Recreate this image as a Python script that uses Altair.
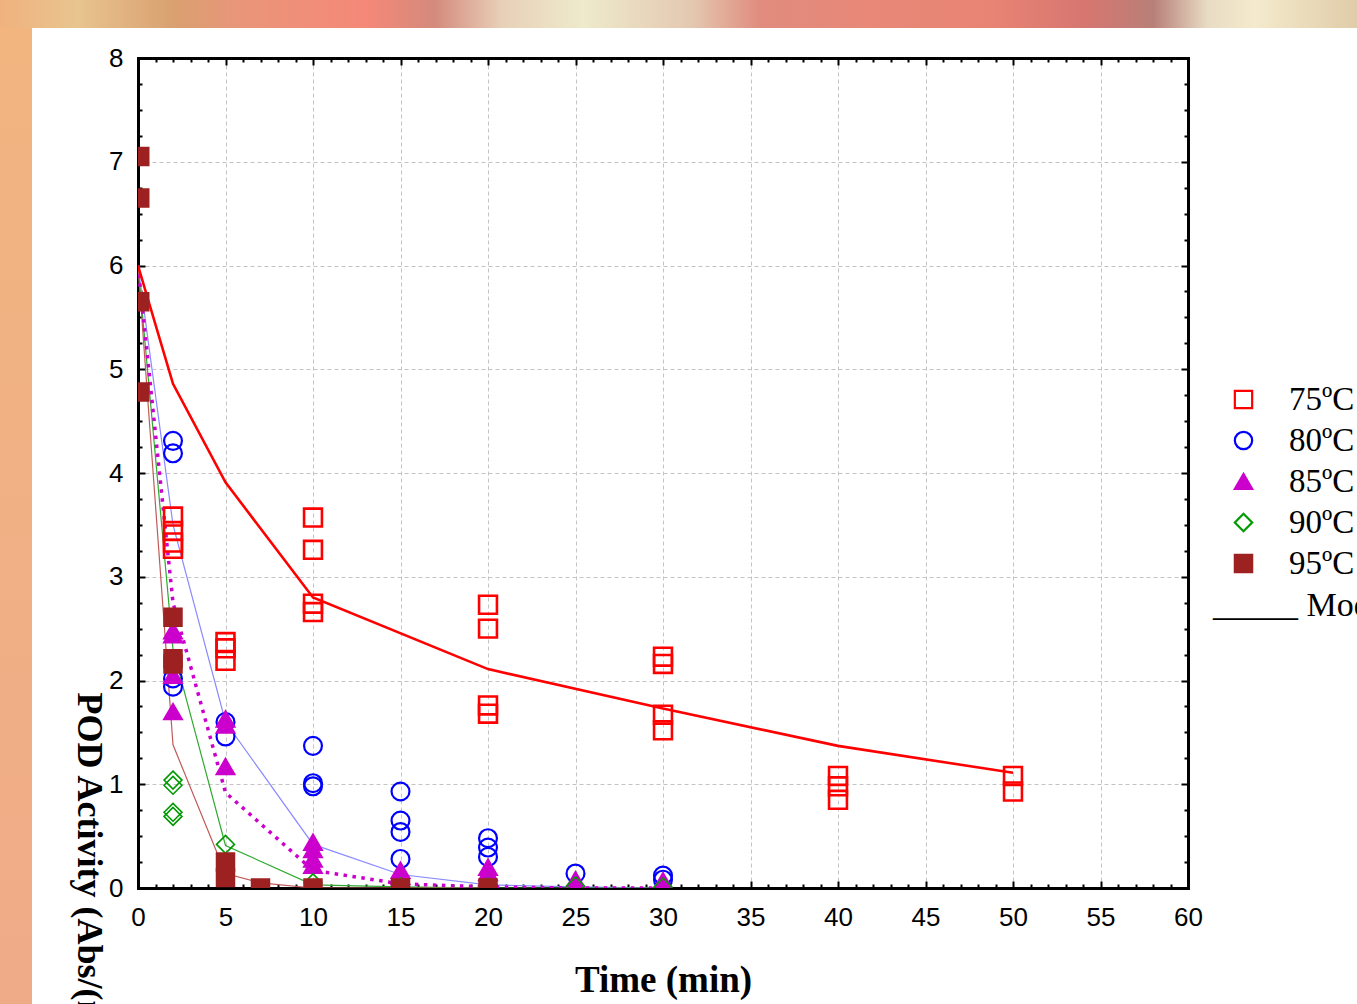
import altair as alt
import pandas as pd

# ---------------- data ----------------
series = ["75ºC", "80ºC", "85ºC", "90ºC", "95ºC"]
marker_shapes = ["square", "circle", "triangle-up", "diamond", "square"]
marker_strokes = ["#ff0000", "#0000ff", "#cc00cc", "#009900", "#9e2121"]
marker_fills = ["transparent", "transparent", "#cc00cc", "transparent", "#9e2121"]
marker_widths = [2.6, 2.2, 2.0, 1.6, 1.6]

t75 = [2, 2, 2, 2, 5, 5, 5, 10, 10, 10, 10, 20, 20, 20, 20, 30, 30, 30, 30, 40, 40, 40, 50, 50]
y75 = [3.58, 3.44, 3.33, 3.27, 2.37, 2.31, 2.19, 3.57, 3.26, 2.74, 2.66, 2.73, 2.50, 1.76, 1.68,
       2.23, 2.16, 1.67, 1.52, 1.08, 0.98, 0.85, 1.08, 0.93]

t80 = [2, 2, 2, 2, 5, 5, 10, 10, 10, 15, 15, 15, 15, 20, 20, 20, 25, 30, 30]
y80 = [4.31, 4.19, 2.02, 1.94, 1.60, 1.46, 1.37, 1.01, 0.98, 0.93, 0.65, 0.54, 0.28,
       0.48, 0.39, 0.30, 0.14, 0.12, 0.08]

t85 = [2, 2, 2, 2, 5, 5, 5, 10, 10, 10, 10, 15, 15, 20, 20, 20, 25, 25, 30, 30]
y85 = [2.48, 2.44, 2.05, 1.70, 1.63, 1.57, 1.17, 0.44, 0.37, 0.28, 0.22, 0.17, 0.11,
       0.20, 0.15, 0.10, 0.08, 0.05, 0.07, 0.04]

t90 = [2, 2, 2, 2, 5, 10, 15, 20, 25, 30]
y90 = [1.04, 0.99, 0.73, 0.69, 0.42, 0.05, 0.01, 0.01, 0.02, 0.01]

t95 = [0.1, 0.1, 0.1, 0.1, 2, 2, 2, 5, 5, 7, 10, 15, 20]
y95 = [7.05, 6.65, 5.65, 4.78, 2.61, 2.21, 2.16, 0.25, 0.10, 0.0, 0.0, 0.0, 0.0]

# model curves
m75_t = [0, 2, 5, 10, 20, 30, 40, 50]
m75_y = [6.0, 4.86, 3.91, 2.80, 2.11, 1.73, 1.37, 1.11]
m80_t = [0, 2, 5, 10, 15, 20, 25, 30]
m80_y = [6.0, 3.5, 1.6, 0.42, 0.13, 0.03, 0.01, 0.0]
m85_t = [0, 2, 5, 10, 15, 20, 25, 30]
m85_y = [6.0, 2.75, 0.92, 0.17, 0.04, 0.01, 0.0, 0.0]
m90_t = [0, 2, 5, 10, 15, 20, 25, 30]
m90_y = [6.0, 2.3, 0.41, 0.03, 0.01, 0.0, 0.0, 0.0]
m95_t = [0, 2, 5, 7, 10, 15, 20]
m95_y = [6.0, 1.38, 0.14, 0.05, 0.0, 0.0, 0.0]

model_label = "_____ Model"
x_title = "Time (min)"
y_title = "POD Activity (Abs/(min·g))"
x_ticks_major = list(range(0, 61, 5))
x_ticks_minor = list(range(0, 61, 1))
y_ticks_major = list(range(0, 9))
y_ticks_minor = [i * 0.25 for i in range(33)]

# ---------------- chart ----------------
W, H = 1050, 830
xs = alt.Scale(domain=[0, 60], nice=False, zero=False)
ys = alt.Scale(domain=[0, 8], nice=False, zero=False)

shape_sc = alt.Scale(domain=series, range=marker_shapes)
stroke_sc = alt.Scale(domain=series, range=marker_strokes)
fill_sc = alt.Scale(domain=series, range=marker_fills)

leg = alt.Legend(title=None, orient="none", legendX=1089, legendY=325,
                 labelFont="Liberation Serif", labelFontSize=33, labelColor="black",
                 labelOffset=29, rowPadding=7, symbolSize=300, symbolStrokeWidth=2.2,
                 padding=0, labelLimit=400)

SANS = "Liberation Sans"
SERIF = "Liberation Serif"

main_x = alt.Axis(orient="bottom", values=x_ticks_major, labelFont=SANS, labelFontSize=26,
                  labelColor="black", labelPadding=16, labelFlush=False, labelOverlap=False,
                  ticks=False, domain=True, domainColor="black", domainWidth=3, domainCap="square",
                  grid=True, gridColor="#c4c4c4", gridDash=[4, 3], gridWidth=1,
                  gridOpacity={"condition": {"test": "datum.value === 0 || datum.value === 60", "value": 0}, "value": 1},
                  title=x_title, titleFont=SERIF, titleFontSize=37, titleFontWeight="bold",
                  titleColor="black", titleX=525, titleY=92, titleAlign="center", titleBaseline="middle")
main_y = alt.Axis(orient="left", values=y_ticks_major, labelFont=SANS, labelFontSize=26,
                  labelColor="black", labelPadding=15, labelFlush=False, labelOverlap=False,
                  ticks=False, domain=True, domainColor="black", domainWidth=3, domainCap="square",
                  grid=True, gridColor="#c4c4c4", gridDash=[4, 3], gridWidth=1,
                  gridOpacity={"condition": {"test": "datum.value === 0 || datum.value === 8", "value": 0}, "value": 1},
                  title=y_title, titleFont=SERIF, titleFontSize=36, titleFontWeight="bold",
                  titleColor="black", titleAngle=90, titleX=-50, titleY=634, titleAlign="left",
                  titleBaseline="middle")

xsize = {"condition": {"test": "datum.value % 5 === 0", "value": 7}, "value": 4}
ysize = {"condition": {"test": "datum.value % 1 === 0", "value": 7}, "value": 4}

def tick_axis(orient, values, size, offset, domain):
    return alt.Axis(orient=orient, values=values, offset=offset, labels=False, grid=False,
                    ticks=True, tickColor="black", tickWidth=2, tickSize=size,
                    domain=domain, domainColor="black", domainWidth=3, domainCap="square",
                    title=None)

# inward ticks: bottom edge (top-orient moved down), left edge (right-orient moved left)
ax_bottom_in = tick_axis("top", x_ticks_minor, xsize, -H, False)
ax_left_in = tick_axis("right", y_ticks_minor, ysize, -W, False)
# top edge (bottom-orient moved up), right edge (left-orient moved right)
ax_top_in = tick_axis("bottom", x_ticks_minor, xsize, -H, True)
ax_right_in = tick_axis("left", y_ticks_minor, ysize, -W, True)

# background decoration of the slide
one = alt.Data(values=[{"k": 1}])
grad_top = alt.LinearGradient(gradient="linear", x1=0, x2=1, y1=0, y2=0, stops=[
    alt.GradientStop(offset=0.0, color="#f0b27e"),
    alt.GradientStop(offset=0.057, color="#e8c48e"),
    alt.GradientStop(offset=0.128, color="#d9a070"),
    alt.GradientStop(offset=0.18, color="#ea957a"),
    alt.GradientStop(offset=0.27, color="#f58878"),
    alt.GradientStop(offset=0.32, color="#d48a7c"),
    alt.GradientStop(offset=0.37, color="#e8d0b8"),
    alt.GradientStop(offset=0.43, color="#eeeacc"),
    alt.GradientStop(offset=0.51, color="#e4c8b0"),
    alt.GradientStop(offset=0.56, color="#e08c7e"),
    alt.GradientStop(offset=0.64, color="#e88878"),
    alt.GradientStop(offset=0.73, color="#e88474"),
    alt.GradientStop(offset=0.80, color="#d67670"),
    alt.GradientStop(offset=0.85, color="#b88078"),
    alt.GradientStop(offset=0.89, color="#e8dcc4"),
    alt.GradientStop(offset=0.925, color="#f4eacc"),
    alt.GradientStop(offset=1.0, color="#e0cca8"),
])
grad_left = alt.LinearGradient(gradient="linear", x1=0, x2=0, y1=0, y2=1, stops=[
    alt.GradientStop(offset=0.0, color="#f2b580"),
    alt.GradientStop(offset=1.0, color="#efab88"),
])
bg_top = alt.Chart(one).mark_rect(fill=grad_top).encode(
    x=alt.value(-138), x2=alt.value(1219), y=alt.value(-58), y2=alt.value(-30))
bg_left = alt.Chart(one).mark_rect(fill=grad_left).encode(
    x=alt.value(-138), x2=alt.value(-106), y=alt.value(-30), y2=alt.value(946))

# model lines
thin_df = pd.DataFrame({
    "t": m80_t + m90_t + m95_t,
    "y": m80_y + m90_y + m95_y,
    "s": ["80ºC"] * len(m80_t) + ["90ºC"] * len(m90_t) + ["95ºC"] * len(m95_t),
})
thin = alt.Chart(thin_df).mark_line(clip=True, strokeWidth=1.2).encode(
    x=alt.X("t:Q", scale=xs, axis=None),
    y=alt.Y("y:Q", scale=ys, axis=None),
    color=alt.Color("s:N", scale=alt.Scale(domain=["80ºC", "90ºC", "95ºC"],
                                           range=["#8a8aff", "#2faa2f", "#c05a5a"]), legend=None),
)
dotted = alt.Chart(pd.DataFrame({"t": m85_t, "y": m85_y})).mark_line(
    clip=True, strokeWidth=3.5, strokeDash=[3.5, 5.5], color="#cc00cc").encode(
    x=alt.X("t:Q", scale=xs, axis=ax_top_in),
    y=alt.Y("y:Q", scale=ys, axis=ax_right_in),
)
red = alt.Chart(pd.DataFrame({"t": m75_t, "y": m75_y})).mark_line(
    clip=True, strokeWidth=2.6, color="#ff0000").encode(
    x=alt.X("t:Q", scale=xs, axis=ax_bottom_in),
    y=alt.Y("y:Q", scale=ys, axis=ax_left_in),
)

obs = [(t75, y75), (t80, y80), (t85, y85), (t90, y90), (t95, y95)]
point_layers = []
for i, (name, (tt, yy)) in enumerate(zip(series, obs)):
    d = pd.DataFrame({"t": tt, "y": yy, "s": name})
    xa = main_x if i == 0 else None
    ya = main_y if i == 0 else None
    layer = alt.Chart(d).mark_point(clip=True, size=320, opacity=1,
                                    strokeWidth=marker_widths[i]).encode(
        x=alt.X("t:Q", scale=xs, axis=xa),
        y=alt.Y("y:Q", scale=ys, axis=ya),
        shape=alt.Shape("s:N", scale=shape_sc, legend=leg),
        stroke=alt.Stroke("s:N", scale=stroke_sc, legend=leg),
        fill=alt.Fill("s:N", scale=fill_sc, legend=leg),
    )
    point_layers.append(layer)

model_text = alt.Chart(alt.Data(values=[{"label": model_label}])).mark_text(
    font=SERIF, fontSize=34, color="black", align="left", baseline="alphabetic").encode(
    x=alt.value(1075), y=alt.value(558), text="label:N")

chart = alt.layer(bg_left, bg_top, thin, dotted, red, *point_layers, model_text).resolve_axis(
    x="independent", y="independent"
).properties(
    width=W, height=H,
    padding={"left": 138, "top": 58, "right": 169, "bottom": 116},
    autosize=alt.AutoSizeParams(type="none"),
).configure(background="white").configure_view(stroke="transparent")

chart.save("out.html", embed_options={"renderer": "svg", "actions": False})
